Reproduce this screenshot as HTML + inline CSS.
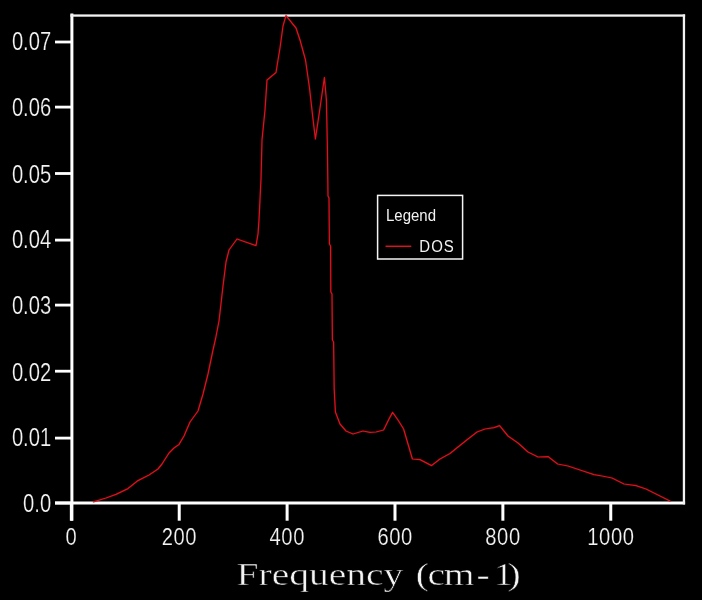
<!DOCTYPE html>
<html lang="en">
<head>
<meta charset="utf-8">
<title>DOS - Frequency (cm-1)</title>
<style>
html,body{margin:0;padding:0;background:#000;}
body{width:702px;height:600px;overflow:hidden;}
svg{display:block;}
.tk{font-family:"Liberation Sans",Arial,Helvetica,sans-serif;font-size:20.2px;fill:#f4f4f4;stroke:#000;stroke-width:0.18px;}
.lg{font-family:"Liberation Sans",Arial,Helvetica,sans-serif;font-size:15px;fill:#f2f2f2;}
.ttl{font-family:"Liberation Serif","Times New Roman",serif;font-size:30px;fill:#f4f4f4;word-spacing:2px;stroke:#000;stroke-width:0.45px;}
</style>
</head>
<body>
<svg width="702" height="600" viewBox="0 0 702 600">
<rect x="0" y="0" width="702" height="600" fill="#000"/>
<g>
<!-- frame -->
<rect x="70.4" y="13.5" width="3" height="507.2" fill="#fff"/>
<rect x="55" y="501.5" width="630.1" height="3" fill="#fff"/>
<rect x="70.4" y="14.4" width="614.7" height="2.3" fill="#f2f2f2"/>
<rect x="682.8" y="14.4" width="2.3" height="490" fill="#f2f2f2"/>
<rect x="55" y="501.60" width="16" height="2.8" fill="#fff"/>
<rect x="55" y="436.70" width="16" height="2.8" fill="#fff"/>
<rect x="55" y="369.80" width="16" height="2.8" fill="#fff"/>
<rect x="55" y="303.70" width="16" height="2.8" fill="#fff"/>
<rect x="55" y="238.70" width="16" height="2.8" fill="#fff"/>
<rect x="55" y="172.10" width="16" height="2.8" fill="#fff"/>
<rect x="55" y="105.70" width="16" height="2.8" fill="#fff"/>
<rect x="55" y="40.60" width="16" height="2.8" fill="#fff"/>
<rect x="69.85" y="503" width="3" height="17.7" fill="#fff"/>
<rect x="177.73" y="503" width="3" height="17.7" fill="#fff"/>
<rect x="285.61" y="503" width="3" height="17.7" fill="#fff"/>
<rect x="393.49" y="503" width="3" height="17.7" fill="#fff"/>
<rect x="501.37" y="503" width="3" height="17.7" fill="#fff"/>
<rect x="609.25" y="503" width="3" height="17.7" fill="#fff"/>

<!-- curve -->
<polyline points="93.5,501.9 106,498 116,494.4 128,488.6 138,480.6 149,475 158,469 162,464 169,453 174,448 179,444.4 184,436 190,422 198,411 203,394 208,374 213,350 215.5,339 219,321 220.5,308 223,286 226,262 229,250 237,239 256,245.6 258,234 259,220 261,179 262,140 265,110 267,80 276,72.5 278,60 280,48 283,26 286,15.6 296,28 300,40 305.5,60 309.5,88 313,119 315.4,139 320,108 324.4,77.5 326.4,100 327.4,148 327.8,179 328,196 329,198 329.4,244 330.6,246 330.8,292 332,294 332.4,340 333.6,342 334.2,389 335.4,412 340,424 346,431 353,434 363,431 370,432.4 376,432 383.6,430 389,419 392.6,412.4 398,420 403.6,429 408,444 412.4,459 420,459.6 431.6,465.6 440,459 450,453.5 458,447 468,439 477,432 485,429 494,427.6 499.6,425.6 508,436 518,443 528,452 538,457 548,456.6 557.6,464 568,466 580,470 594,474.6 602,476 612,478 624,484 636,485.6 646,489 658,495 670,501" fill="none" stroke="#d0121c" stroke-opacity="0.13" stroke-width="2.5" stroke-linejoin="round" stroke-linecap="round"/>
<polyline points="93.5,501.9 106,498 116,494.4 128,488.6 138,480.6 149,475 158,469 162,464 169,453 174,448 179,444.4 184,436 190,422 198,411 203,394 208,374 213,350 215.5,339 219,321 220.5,308 223,286 226,262 229,250 237,239 256,245.6 258,234 259,220 261,179 262,140 265,110 267,80 276,72.5 278,60 280,48 283,26 286,15.6 296,28 300,40 305.5,60 309.5,88 313,119 315.4,139 320,108 324.4,77.5 326.4,100 327.4,148 327.8,179 328,196 329,198 329.4,244 330.6,246 330.8,292 332,294 332.4,340 333.6,342 334.2,389 335.4,412 340,424 346,431 353,434 363,431 370,432.4 376,432 383.6,430 389,419 392.6,412.4 398,420 403.6,429 408,444 412.4,459 420,459.6 431.6,465.6 440,459 450,453.5 458,447 468,439 477,432 485,429 494,427.6 499.6,425.6 508,436 518,443 528,452 538,457 548,456.6 557.6,464 568,466 580,470 594,474.6 602,476 612,478 624,484 636,485.6 646,489 658,495 670,501" fill="none" stroke="#de121d" stroke-opacity="1" stroke-width="1.25" stroke-linejoin="round" stroke-linecap="round"/>
<!-- legend -->
<rect x="377.6" y="195.4" width="85" height="63.6" fill="#000" stroke="#f4f4f4" stroke-width="1.5"/>
<line x1="385.5" y1="246.3" x2="411.3" y2="246.3" stroke="#d8141e" stroke-width="1.5"/>
<text class="lg" transform="translate(386,221.4) scale(1,1.1)">Legend</text>
<text class="lg" transform="translate(419.3,251.5) scale(1,1.08)" style="letter-spacing:1px">DOS</text>
<!-- labels -->
<text class="tk" transform="translate(51.2,512.10) scale(1,1.235)" text-anchor="end">0.0</text>
<text class="tk" transform="translate(51.2,445.60) scale(1,1.235)" text-anchor="end">0.01</text>
<text class="tk" transform="translate(51.2,380.60) scale(1,1.235)" text-anchor="end">0.02</text>
<text class="tk" transform="translate(51.2,314.20) scale(1,1.235)" text-anchor="end">0.03</text>
<text class="tk" transform="translate(51.2,247.60) scale(1,1.235)" text-anchor="end">0.04</text>
<text class="tk" transform="translate(51.2,182.60) scale(1,1.235)" text-anchor="end">0.05</text>
<text class="tk" transform="translate(51.2,116.00) scale(1,1.235)" text-anchor="end">0.06</text>
<text class="tk" transform="translate(51.2,49.80) scale(1,1.235)" text-anchor="end">0.07</text>
<text class="tk" style="letter-spacing:0.6px" transform="translate(71.50,544.6) scale(1,1.2)" text-anchor="middle">0</text>
<text class="tk" style="letter-spacing:0.6px" transform="translate(179.38,544.6) scale(1,1.2)" text-anchor="middle">200</text>
<text class="tk" style="letter-spacing:0.6px" transform="translate(287.26,544.6) scale(1,1.2)" text-anchor="middle">400</text>
<text class="tk" style="letter-spacing:0.6px" transform="translate(395.14,544.6) scale(1,1.2)" text-anchor="middle">600</text>
<text class="tk" style="letter-spacing:0.6px" transform="translate(503.02,544.6) scale(1,1.2)" text-anchor="middle">800</text>
<text class="tk" style="letter-spacing:0.6px" transform="translate(610.90,544.6) scale(1,1.2)" text-anchor="middle">1000</text>

<text class="ttl" transform="translate(236.6,585.3) scale(1.317,1.04)">Frequency <tspan style="letter-spacing:-1px">(cm<tspan dx="2.5" style="letter-spacing:3px">-</tspan><tspan style="letter-spacing:-4.5px">1</tspan>)</tspan></text>
</g>
</svg>
</body>
</html>
